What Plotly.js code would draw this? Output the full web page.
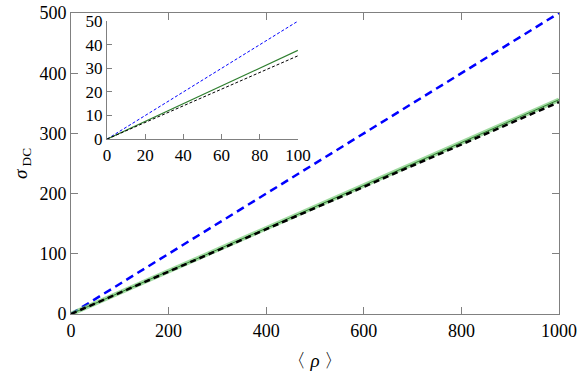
<!DOCTYPE html>
<html><head><meta charset="utf-8">
<script src="https://cdn.plot.ly/plotly-3.0.1.min.js"></script>
<style>
body{margin:0}
#chart svg text{font-family:"Liberation Serif","Times New Roman",serif !important;}
</style>
</head><body>
<div id="chart" style="width:581px;height:378px"></div>
<script>
// Main panel data
const mainX = [0, 1000];
const mainBlue = [0, 500];
const mainGreen = [0, 356];
const mainBlack = [0, 352];
// Inset data
const insetX = [0, 100];
const insetBlue = [0, 50];
const insetGreen = [0, 37.6];
const insetBlack = [0, 35.3];

function fnt(size) { return {family: 'Liberation Serif', size: size, color: 'black'}; }
const traces = [
  {x: mainX, y: mainBlue, mode: 'lines', line: {color: '#0000ff', width: 2.5, dash: '8px,5px'}, xaxis: 'x', yaxis: 'y'},
  {x: mainX, y: mainGreen, mode: 'lines', line: {color: 'rgba(110,200,110,0.65)', width: 4.5}, xaxis: 'x', yaxis: 'y'},
  {x: mainX, y: mainGreen, mode: 'lines', line: {color: '#2f7f2f', width: 1}, xaxis: 'x', yaxis: 'y'},
  {x: mainX, y: mainBlack, mode: 'lines', line: {color: '#000', width: 2.5, dash: '6px,4px'}, xaxis: 'x', yaxis: 'y'},
  {x: insetX, y: insetBlue, mode: 'lines', line: {color: '#0000ff', width: 1, dash: '3px,2px'}, xaxis: 'x2', yaxis: 'y2'},
  {x: insetX, y: insetGreen, mode: 'lines', line: {color: '#2f7f2f', width: 1.2}, xaxis: 'x2', yaxis: 'y2'},
  {x: insetX, y: insetBlack, mode: 'lines', line: {color: '#000', width: 1, dash: '3px,2px'}, xaxis: 'x2', yaxis: 'y2'}
];
function ax(extra) {
  return Object.assign({
    showgrid: false, zeroline: false, showline: true, linecolor: '#808080', linewidth: 1,
    ticks: 'inside', tickcolor: '#808080', tickwidth: 1
  }, extra);
}
function minorAx(extra) {
  return Object.assign({
    showgrid: false, zeroline: false, showline: false, showticklabels: false,
    ticks: 'inside', tickcolor: '#808080', tickwidth: 1, ticklen: 4, tick0: 0
  }, extra);
}
const layout = {
  width: 581, height: 378,
  margin: {l: 71, r: 22, t: 13, b: 64},
  paper_bgcolor: '#fff', plot_bgcolor: 'rgba(0,0,0,0)',
  showlegend: false,
  font: fnt(18),
  xaxis: ax({range: [0, 1000], dtick: 200, tick0: 0, ticklen: 7, mirror: 'ticks', tickfont: fnt(18),
    title: {text: '〈 <i>ρ</i> 〉', font: fnt(19), standoff: 14}}),
  yaxis: ax({range: [0, 500], dtick: 100, tick0: 0, ticklen: 7, mirror: 'ticks', tickfont: fnt(18),
    title: {text: '<i>σ</i><sub> DC</sub>', font: fnt(19), standoff: 6}}),
  xaxis3: minorAx({overlaying: 'x', anchor: 'y', range: [0, 1000], dtick: 50, mirror: 'ticks', side: 'bottom'}),
  yaxis3: minorAx({overlaying: 'y', anchor: 'x', range: [0, 500], dtick: 20, mirror: 'ticks', side: 'left'}),
  xaxis2: ax({domain: [0.0738, 0.465], anchor: 'y2', range: [0, 100], dtick: 20, tick0: 0, ticklen: 5, tickfont: fnt(17)}),
  yaxis2: ax({domain: [0.581, 0.973], anchor: 'x2', range: [0, 50], dtick: 10, tick0: 0, ticklen: 5, tickfont: fnt(17)}),
  xaxis4: minorAx({overlaying: 'x2', anchor: 'y2', range: [0, 100], dtick: 5, ticklen: 3, side: 'bottom'}),
  yaxis4: minorAx({overlaying: 'y2', anchor: 'x2', range: [0, 50], dtick: 2, ticklen: 3, side: 'left'})
};
Plotly.newPlot('chart', traces, layout, {displayModeBar: false});
</script>
</body></html>
